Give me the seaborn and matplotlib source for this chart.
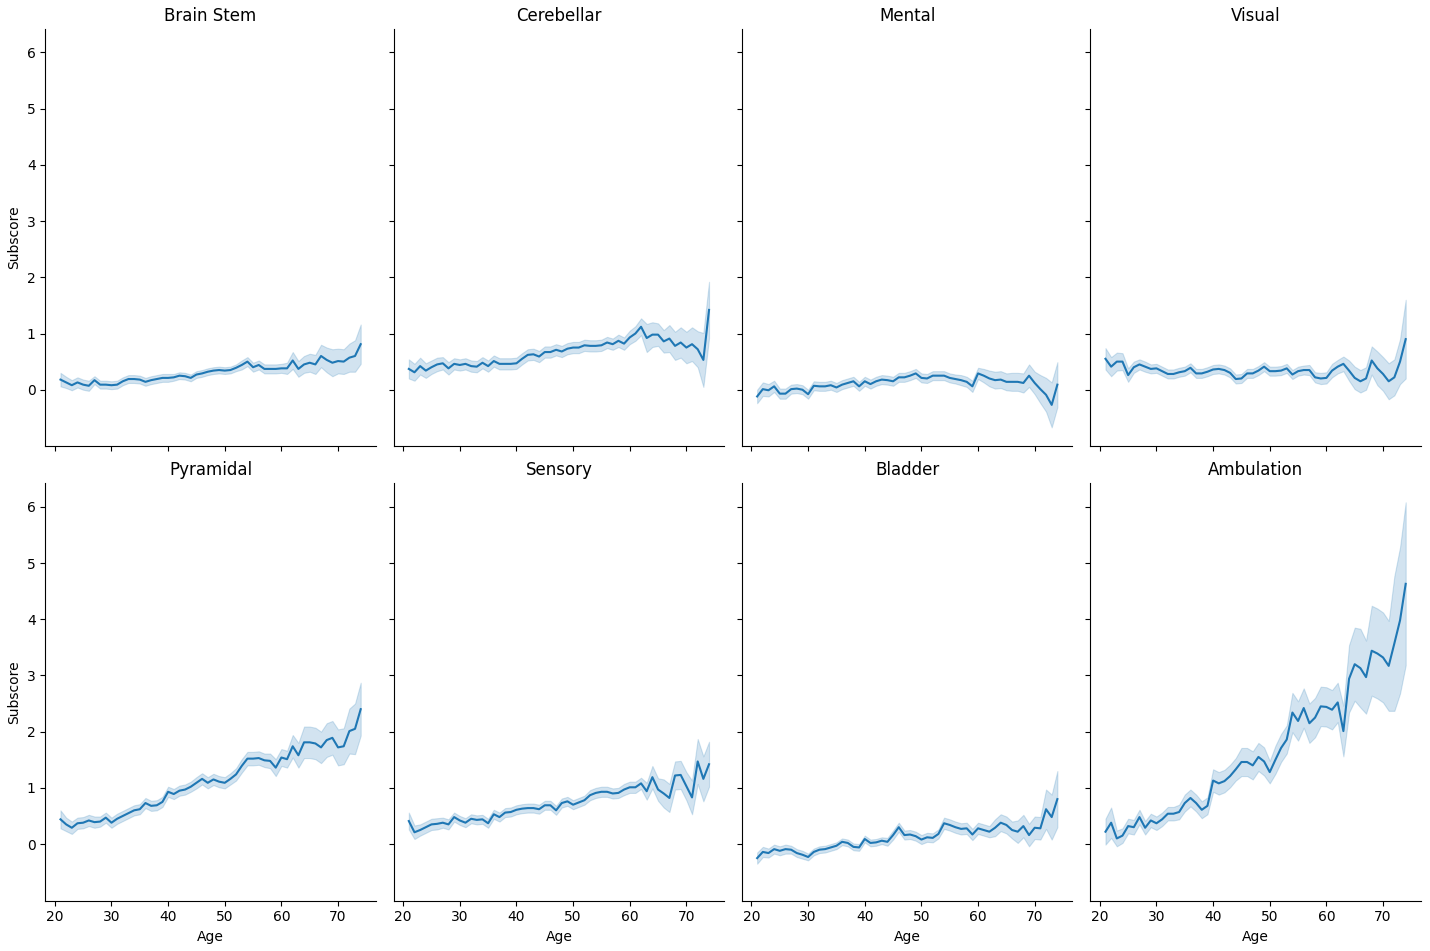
import numpy as np
import pandas as pd
import matplotlib
matplotlib.use("Agg")
import matplotlib.pyplot as plt
import seaborn as sns

ages = list(range(21, 75))
measures = ['Brain Stem', 'Cerebellar', 'Mental', 'Visual',
            'Pyramidal', 'Sensory', 'Bladder', 'Ambulation']

# mean subscore per age
brain_stem = [0.18, 0.13, 0.08, 0.13, 0.09, 0.07, 0.17, 0.09, 0.09, 0.08,
              0.09, 0.15, 0.19, 0.19, 0.18, 0.14, 0.17, 0.19, 0.21, 0.21,
              0.22, 0.25, 0.24, 0.21, 0.27, 0.29, 0.32, 0.34, 0.35, 0.34,
              0.35, 0.39, 0.44, 0.50, 0.40, 0.44, 0.37, 0.37, 0.37, 0.38,
              0.38, 0.52, 0.37, 0.45, 0.48, 0.45, 0.60, 0.53, 0.48, 0.51,
              0.50, 0.57, 0.60, 0.81]
cerebellar = [0.37, 0.31, 0.42, 0.34, 0.40, 0.45, 0.47, 0.38, 0.46, 0.44,
              0.46, 0.42, 0.41, 0.48, 0.42, 0.51, 0.46, 0.46, 0.46, 0.47,
              0.55, 0.62, 0.63, 0.59, 0.67, 0.67, 0.71, 0.68, 0.73, 0.75,
              0.75, 0.79, 0.78, 0.78, 0.79, 0.84, 0.81, 0.87, 0.82, 0.93,
              1.00, 1.12, 0.92, 0.98, 0.98, 0.86, 0.91, 0.78, 0.84, 0.75,
              0.81, 0.72, 0.53, 1.42]
mental = [-0.12, 0.01, -0.01, 0.06, -0.07, -0.07, 0.01, 0.02, 0.00, -0.08,
          0.07, 0.06, 0.06, 0.08, 0.04, 0.09, 0.12, 0.15, 0.06, 0.15,
          0.10, 0.15, 0.18, 0.17, 0.15, 0.22, 0.22, 0.25, 0.29, 0.21,
          0.20, 0.25, 0.25, 0.25, 0.21, 0.19, 0.17, 0.14, 0.06, 0.29,
          0.25, 0.20, 0.17, 0.18, 0.14, 0.14, 0.14, 0.12, 0.25, 0.12,
          0.01, -0.09, -0.27, 0.09]
visual = [0.55, 0.41, 0.50, 0.50, 0.26, 0.40, 0.45, 0.41, 0.37, 0.38,
          0.33, 0.28, 0.28, 0.31, 0.33, 0.39, 0.29, 0.29, 0.32, 0.36,
          0.37, 0.35, 0.30, 0.19, 0.20, 0.29, 0.29, 0.34, 0.41, 0.33,
          0.33, 0.34, 0.38, 0.27, 0.33, 0.35, 0.35, 0.22, 0.20, 0.21,
          0.34, 0.41, 0.46, 0.34, 0.21, 0.15, 0.20, 0.52, 0.38, 0.28,
          0.15, 0.22, 0.50, 0.90]
pyramidal = [0.44, 0.35, 0.29, 0.37, 0.38, 0.42, 0.39, 0.40, 0.47, 0.38,
             0.45, 0.50, 0.55, 0.60, 0.62, 0.73, 0.68, 0.69, 0.75, 0.93,
             0.89, 0.95, 0.97, 1.02, 1.09, 1.16, 1.09, 1.15, 1.11, 1.09,
             1.16, 1.24, 1.39, 1.52, 1.52, 1.53, 1.49, 1.48, 1.36, 1.54,
             1.51, 1.74, 1.58, 1.81, 1.81, 1.79, 1.72, 1.85, 1.89, 1.72,
             1.74, 2.01, 2.05, 2.40]
sensory = [0.41, 0.21, 0.25, 0.30, 0.35, 0.36, 0.38, 0.35, 0.48, 0.42,
           0.38, 0.45, 0.43, 0.44, 0.37, 0.53, 0.48, 0.56, 0.57, 0.61,
           0.63, 0.64, 0.64, 0.62, 0.69, 0.69, 0.60, 0.73, 0.76, 0.70,
           0.74, 0.78, 0.87, 0.91, 0.93, 0.93, 0.90, 0.91, 0.97, 1.01,
           1.01, 1.08, 0.94, 1.19, 0.97, 0.90, 0.82, 1.22, 1.23, 1.03,
           0.83, 1.47, 1.16, 1.42]
bladder = [-0.25, -0.14, -0.16, -0.09, -0.12, -0.09, -0.10, -0.16, -0.19, -0.23,
           -0.14, -0.10, -0.09, -0.06, -0.03, 0.04, 0.02, -0.05, -0.06, 0.09,
           0.02, 0.03, 0.06, 0.04, 0.16, 0.30, 0.16, 0.17, 0.14, 0.08,
           0.12, 0.11, 0.18, 0.37, 0.34, 0.30, 0.27, 0.28, 0.17, 0.28,
           0.25, 0.22, 0.29, 0.38, 0.34, 0.25, 0.22, 0.32, 0.16, 0.29,
           0.28, 0.62, 0.48, 0.80]
ambulation = [0.22, 0.38, 0.10, 0.15, 0.32, 0.30, 0.48, 0.29, 0.42, 0.37,
              0.44, 0.54, 0.54, 0.57, 0.73, 0.82, 0.73, 0.61, 0.68, 1.13,
              1.08, 1.12, 1.21, 1.33, 1.46, 1.46, 1.40, 1.55, 1.47, 1.28,
              1.50, 1.71, 1.86, 2.34, 2.19, 2.42, 2.15, 2.25, 2.45, 2.44,
              2.39, 2.52, 2.01, 2.94, 3.20, 3.13, 2.97, 3.44, 3.39, 3.32,
              3.17, 3.57, 3.98, 4.63]

# half width of the confidence band per age
brain_stem_ci = [0.12, 0.10, 0.09, 0.09, 0.09, 0.09, 0.07, 0.07, 0.07, 0.07,
                 0.07, 0.07, 0.07, 0.07, 0.07, 0.07, 0.07, 0.07, 0.07, 0.07,
                 0.06, 0.06, 0.06, 0.06, 0.06, 0.06, 0.06, 0.06, 0.06, 0.06,
                 0.06, 0.06, 0.08, 0.08, 0.08, 0.08, 0.08, 0.08, 0.08, 0.08,
                 0.10, 0.15, 0.14, 0.15, 0.16, 0.17, 0.20, 0.22, 0.24, 0.22,
                 0.22, 0.25, 0.28, 0.35]
cerebellar_ci = [0.17, 0.15, 0.15, 0.13, 0.12, 0.12, 0.11, 0.11, 0.10, 0.10,
                 0.10, 0.10, 0.10, 0.10, 0.10, 0.10, 0.10, 0.10, 0.10, 0.10,
                 0.10, 0.10, 0.10, 0.10, 0.10, 0.10, 0.10, 0.10, 0.10, 0.10,
                 0.10, 0.10, 0.10, 0.10, 0.10, 0.10, 0.10, 0.11, 0.11, 0.12,
                 0.13, 0.15, 0.25, 0.22, 0.20, 0.20, 0.24, 0.25, 0.27, 0.28,
                 0.30, 0.32, 0.48, 0.50]
mental_ci = [0.12, 0.12, 0.11, 0.10, 0.09, 0.09, 0.08, 0.08, 0.08, 0.08,
             0.08, 0.08, 0.08, 0.08, 0.08, 0.08, 0.08, 0.08, 0.08, 0.08,
             0.08, 0.08, 0.08, 0.08, 0.08, 0.08, 0.08, 0.08, 0.08, 0.08,
             0.08, 0.08, 0.08, 0.08, 0.08, 0.08, 0.09, 0.09, 0.10, 0.10,
             0.12, 0.14, 0.15, 0.15, 0.15, 0.16, 0.16, 0.17, 0.20, 0.20,
             0.25, 0.30, 0.40, 0.40]
visual_ci = [0.19, 0.17, 0.16, 0.15, 0.12, 0.10, 0.09, 0.09, 0.08, 0.08,
             0.08, 0.08, 0.08, 0.08, 0.08, 0.08, 0.08, 0.08, 0.08, 0.08,
             0.08, 0.08, 0.08, 0.08, 0.08, 0.08, 0.08, 0.08, 0.08, 0.08,
             0.08, 0.08, 0.08, 0.08, 0.08, 0.08, 0.09, 0.09, 0.10, 0.10,
             0.12, 0.12, 0.13, 0.18, 0.20, 0.20, 0.20, 0.25, 0.30, 0.30,
             0.32, 0.32, 0.40, 0.70]
pyramidal_ci = [0.16, 0.12, 0.11, 0.10, 0.10, 0.10, 0.10, 0.09, 0.09, 0.09,
                0.09, 0.09, 0.09, 0.09, 0.09, 0.09, 0.09, 0.09, 0.09, 0.09,
                0.09, 0.09, 0.09, 0.09, 0.10, 0.10, 0.10, 0.10, 0.10, 0.10,
                0.10, 0.11, 0.12, 0.12, 0.12, 0.12, 0.12, 0.13, 0.15, 0.15,
                0.15, 0.20, 0.22, 0.28, 0.28, 0.28, 0.28, 0.30, 0.30, 0.32,
                0.32, 0.40, 0.45, 0.47]
sensory_ci = [0.15, 0.12, 0.10, 0.10, 0.10, 0.10, 0.09, 0.09, 0.08, 0.08,
              0.08, 0.08, 0.08, 0.08, 0.08, 0.08, 0.08, 0.08, 0.08, 0.08,
              0.08, 0.08, 0.08, 0.08, 0.08, 0.08, 0.08, 0.08, 0.08, 0.08,
              0.08, 0.08, 0.09, 0.09, 0.09, 0.09, 0.09, 0.09, 0.10, 0.10,
              0.10, 0.10, 0.15, 0.20, 0.20, 0.25, 0.25, 0.25, 0.25, 0.25,
              0.30, 0.40, 0.40, 0.40]
bladder_ci = [0.10, 0.09, 0.08, 0.08, 0.08, 0.08, 0.07, 0.07, 0.07, 0.06,
              0.06, 0.06, 0.06, 0.06, 0.06, 0.06, 0.06, 0.06, 0.06, 0.06,
              0.06, 0.06, 0.06, 0.07, 0.08, 0.08, 0.08, 0.08, 0.08, 0.08,
              0.08, 0.08, 0.08, 0.10, 0.10, 0.10, 0.10, 0.10, 0.10, 0.10,
              0.10, 0.10, 0.15, 0.15, 0.15, 0.15, 0.20, 0.20, 0.20, 0.20,
              0.20, 0.35, 0.40, 0.50]
ambulation_ci = [0.23, 0.27, 0.14, 0.13, 0.13, 0.13, 0.13, 0.12, 0.12, 0.12,
                 0.12, 0.12, 0.12, 0.13, 0.15, 0.15, 0.15, 0.15, 0.15, 0.20,
                 0.20, 0.20, 0.20, 0.20, 0.25, 0.25, 0.25, 0.25, 0.25, 0.20,
                 0.25, 0.25, 0.25, 0.35, 0.35, 0.35, 0.35, 0.35, 0.35, 0.35,
                 0.35, 0.35, 0.45, 0.60, 0.65, 0.70, 0.65, 0.80, 0.80, 0.80,
                 0.80, 1.20, 1.30, 1.45]

means = [brain_stem, cerebellar, mental, visual, pyramidal, sensory, bladder, ambulation]
cis = [brain_stem_ci, cerebellar_ci, mental_ci, visual_ci,
       pyramidal_ci, sensory_ci, bladder_ci, ambulation_ci]

frames = []
for name, m, c in zip(measures, means, cis):
    d = pd.DataFrame({'Age': ages, 'Subscore': m, 'ci': c})
    d['lo'] = d['Subscore'] - d['ci']
    d['hi'] = d['Subscore'] + d['ci']
    d['Measure'] = name
    frames.append(d)
df = pd.concat(frames, ignore_index=True)


def draw(data, color=None, **kws):
    ax = plt.gca()
    ax.fill_between(data['Age'], data['lo'], data['hi'], color='#1f77b4',
                    alpha=0.2, linewidth=0.8)
    sns.lineplot(data=data, x='Age', y='Subscore', color='#1f77b4', ax=ax,
                 linewidth=1.5)


g = sns.FacetGrid(df, col='Measure', col_wrap=4, col_order=measures,
                  height=4.755, aspect=0.752, sharey=True, sharex=True)
g.map_dataframe(draw)
g.set_titles('{col_name}', size=12)
g.set_axis_labels('Age', 'Subscore')
g.set(yticks=[0, 1, 2, 3, 4, 5, 6], xticks=[20, 30, 40, 50, 60, 70])
g.figure.set_size_inches(14.3, 9.51)
g.figure.subplots_adjust(left=0.0318, right=0.9935, top=0.9695, bottom=0.0529,
                         wspace=0.0548, hspace=0.0887)
g.figure.savefig('out.png', dpi=100)
